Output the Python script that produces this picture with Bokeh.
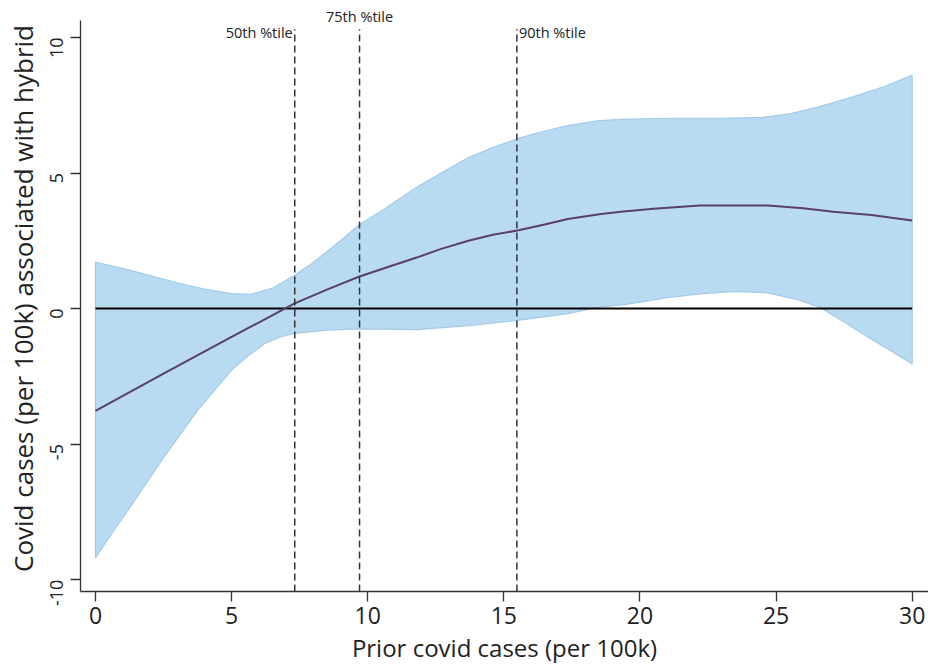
import math
from bokeh.plotting import figure
from bokeh.models import Range1d, Label, FixedTicker, PrintfTickFormatter
from bokeh.embed import file_html
from bokeh.resources import INLINE

# Estimated effect (mean line) vs prior covid cases (per 100k)
x_mean = [0, 2.5, 5, 7.3, 8.5, 9.7, 10.8, 11.8, 12.7, 13.7, 14.6, 15.5, 16.5, 17.35,
          18.5, 19.3, 20.5, 22.2, 24.7, 26, 27.1, 28.5, 30]
mean_vals = [-3.78, -2.4, -1.05, 0.18, 0.7, 1.18, 1.55, 1.88, 2.2, 2.5, 2.72, 2.88, 3.1, 3.3,
             3.48, 3.57, 3.68, 3.8, 3.8, 3.7, 3.57, 3.45, 3.25]

# Upper confidence bound
x_upper = [0, 1, 2, 3, 4, 5, 5.7, 6.5, 7.3, 8, 9, 9.7, 10.5, 11.8, 12.7, 13.7, 14.5, 15.5,
           16.5, 17.35, 18.5, 19.3, 21, 23, 24.5, 25.5, 26.5, 27.8, 29, 30]
upper_vals = [1.7, 1.48, 1.22, 0.95, 0.72, 0.55, 0.52, 0.75, 1.22, 1.7, 2.5, 3.1, 3.6, 4.47,
              5.0, 5.57, 5.9, 6.27, 6.55, 6.75, 6.93, 6.98, 7.02, 7.02, 7.05, 7.18, 7.42, 7.8,
              8.2, 8.6]

# Lower confidence bound
x_lower = [0, 0.6, 1.29, 2.5, 3.75, 5, 5.6, 6.2, 6.8, 7.3, 8.5, 9.7, 11.8, 13.7, 15.5, 17.35,
           18.5, 19.5, 21, 22.3, 23.5, 24.7, 25.7, 26.6, 27.5, 28.4, 29.2, 30]
lower_vals = [-9.2, -8.3, -7.3, -5.5, -3.76, -2.27, -1.75, -1.3, -1.05, -0.92, -0.8, -0.75,
              -0.78, -0.63, -0.44, -0.19, 0.05, 0.15, 0.4, 0.55, 0.63, 0.58, 0.35, 0.05, -0.5,
              -1.07, -1.55, -2.05]

# Percentile markers
pct_x = [7.32, 9.7, 15.48]
pct_labels = ["50th %tile", "75th %tile", "90th %tile"]

x_ticks = [0, 5, 10, 15, 20, 25, 30]
y_ticks = [-10, -5, 0, 5, 10]

FONT = "Open Sans"

p = figure(width=928, height=667, output_backend="svg", toolbar_location=None,
           x_range=Range1d(-0.55, 30.6), y_range=Range1d(-10.44, 11.18),
           min_border_left=80, min_border_right=0, min_border_top=5, min_border_bottom=76)
p.outline_line_color = None
p.xgrid.visible = False
p.ygrid.visible = False
p.background_fill_color = "white"
p.border_fill_color = "white"

# confidence band
band_x = x_upper + x_lower[::-1]
band_y = upper_vals + lower_vals[::-1]
p.patch(x=band_x, y=band_y, fill_color="#B8DBF2", fill_alpha=1.0,
        line_color="#A3CBE8", line_width=1.2)

# zero reference line
p.line(x=[x_ticks[0], x_ticks[-1]], y=[0, 0], line_color="black", line_width=2)

# mean line
p.line(x=x_mean, y=mean_vals, line_color="#5A3F66", line_width=2)

# percentile dashed lines
top_val = 10.3
bot_val = -10.44
p.segment(x0=pct_x, y0=[bot_val] * 3, x1=pct_x, y1=[top_val] * 3,
          line_color="#333333", line_width=1.5, line_dash="7 4")

lbl_style = dict(text_font=FONT, text_font_size="14.5px", text_color="#222222")
p.add_layout(Label(x=pct_x[0], y=9.85, text=pct_labels[0], text_align="right",
                   x_offset=-2, **lbl_style))
p.add_layout(Label(x=pct_x[1], y=10.42, text=pct_labels[1], text_align="center", **lbl_style))
p.add_layout(Label(x=pct_x[2], y=9.85, text=pct_labels[2], text_align="left",
                   x_offset=2, **lbl_style))

for ax in (p.xaxis[0], p.yaxis[0]):
    ax.axis_line_color = "#333333"
    ax.axis_line_width = 1.3
    ax.major_tick_line_color = "#333333"
    ax.major_tick_line_width = 1.3
    ax.major_tick_in = 0
    ax.major_tick_out = 10
    ax.minor_tick_line_color = None
    ax.major_label_text_font = FONT
    ax.major_label_text_color = "#222222"
    ax.axis_label_text_font = FONT
    ax.axis_label_text_font_style = "normal"
    ax.axis_label_text_color = "#222222"

p.yaxis.bounds = (-10.44, 10.63)
p.xaxis.ticker = FixedTicker(ticks=x_ticks)
p.yaxis.ticker = FixedTicker(ticks=y_ticks)
p.yaxis.formatter = PrintfTickFormatter(format="%d")
p.xaxis.axis_label = "Prior covid cases (per 100k)"
p.yaxis.axis_label = "Covid cases (per 100k) associated with hybrid"
p.xaxis.major_label_text_font_size = "23px"
p.yaxis.major_label_text_font_size = "18px"
p.xaxis.axis_label_text_font_size = "24px"
p.yaxis.axis_label_text_font_size = "26px"
p.yaxis.major_label_orientation = math.pi / 2
p.xaxis.major_label_standoff = 5
p.yaxis.major_label_standoff = 14
p.xaxis.axis_label_standoff = 4
p.yaxis.axis_label_standoff = 0

open("out.html", "w").write(file_html(p, INLINE))
